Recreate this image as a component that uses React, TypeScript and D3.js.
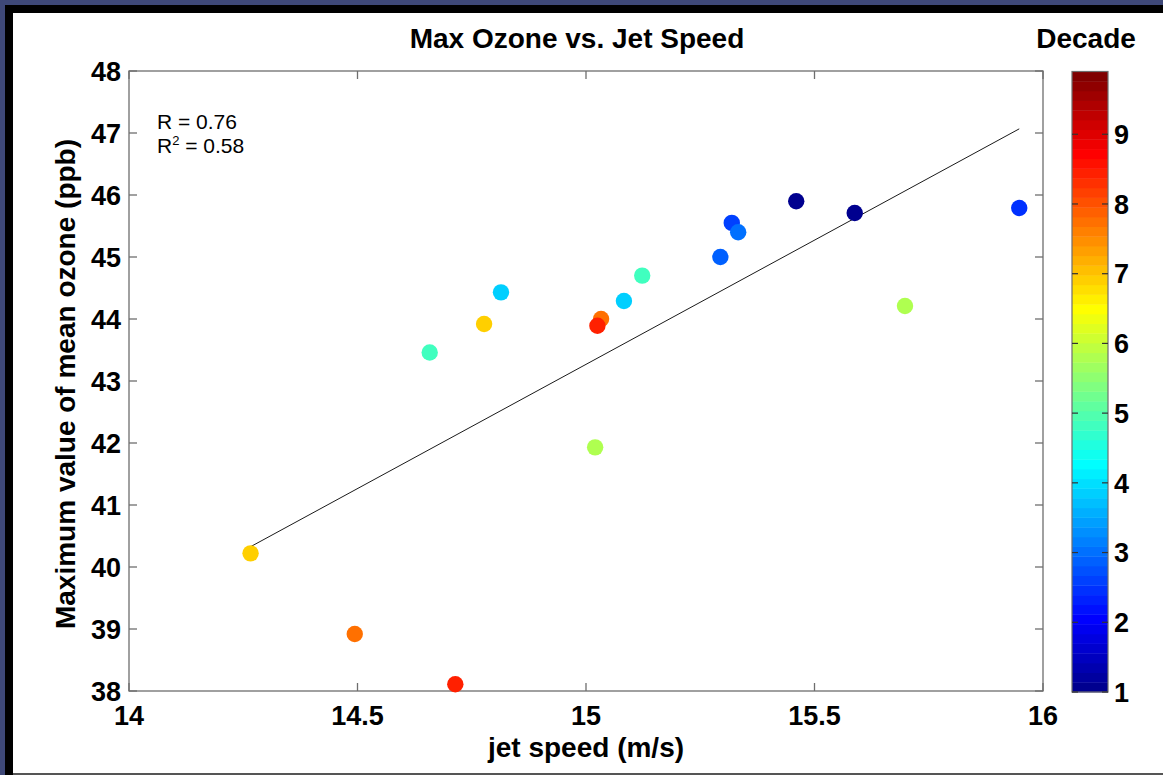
import React from 'react';
import * as d3 from 'd3';

// Per-year records: jet speed (m/s), max of mean ozone (ppb), decade index
const jetSpeed = [14.266, 14.494, 14.714, 14.658, 14.777, 14.814, 15.033, 15.025, 15.02, 15.083, 15.123, 15.294, 15.319, 15.333, 15.46, 15.588, 15.698, 15.948];
const maxOzone = [40.22, 38.92, 38.11, 43.46, 43.92, 44.43, 44.0, 43.89, 41.93, 44.29, 44.7, 45.0, 45.55, 45.4, 45.9, 45.71, 44.21, 45.79];
const decade = [6.9, 7.8, 8.45, 4.8, 6.9, 3.85, 7.8, 8.4, 5.8, 3.85, 4.8, 2.9, 2.6, 3.0, 1.0, 1.05, 5.8, 2.45];

const xTicks = [14, 14.5, 15, 15.5, 16];
const yTicks = [38, 39, 40, 41, 42, 43, 44, 45, 46, 47, 48];
const cbTicks = [1, 2, 3, 4, 5, 6, 7, 8, 9];
const xDomain = [14, 16];
const yDomain = [38, 48];
const cbDomain = [1, 9.9];
const rText = '0.76';
const r2Text = '0.58';

const W = 1163;
const H = 775;
const plot = { left: 129, right: 1043, top: 71, bottom: 691 };
const cb = { left: 1072, right: 1108, top: 71.5, bottom: 692 };
const FONT = '"Liberation Sans", Arial, Helvetica, sans-serif';
const AXIS = '#6e6e6e';
const N_COLORS = 64;

// MATLAB-style jet colormap with 64 entries
function jetEntry(i: number): string {
  const u = (k: number) => (k < 1 || k > 47 ? 0 : k <= 16 ? k / 16 : k <= 31 ? 1 : (48 - k) / 16);
  const r = u(i - 24);
  const g = u(i - 8);
  const b = u(i + 8);
  return d3.rgb(Math.round(r * 255), Math.round(g * 255), Math.round(b * 255)).formatHex();
}
const jet = d3.range(1, N_COLORS + 1).map(jetEntry);

function colorOf(v: number): string {
  const idx = Math.floor(((v - cbDomain[0]) / (cbDomain[1] - cbDomain[0])) * N_COLORS);
  return jet[Math.max(0, Math.min(N_COLORS - 1, idx))];
}

export default function App() {
  const x = d3.scaleLinear().domain(xDomain).range([plot.left, plot.right]);
  const y = d3.scaleLinear().domain(yDomain).range([plot.bottom, plot.top]);
  const cy = d3.scaleLinear().domain(cbDomain).range([cb.bottom, cb.top]);

  // least-squares fit of ozone on jet speed
  const mx = d3.mean(jetSpeed)!;
  const my = d3.mean(maxOzone)!;
  let sxy = 0;
  let sxx = 0;
  jetSpeed.forEach((v, i) => {
    sxy += (v - mx) * (maxOzone[i] - my);
    sxx += (v - mx) * (v - mx);
  });
  const slope = sxy / sxx;
  const icpt = my - slope * mx;
  const [x0, x1] = d3.extent(jetSpeed) as [number, number];
  const fitLine = d3.line<number>().x((d) => x(d)).y((d) => y(icpt + slope * d))([x0, x1]);

  const bandH = (cb.bottom - cb.top) / N_COLORS;
  const tick = 8;

  return (
    <div style={{ position: 'absolute', left: 0, top: 0 }}>
      <svg width={W} height={H} style={{ display: 'block' }}>
        {/* slide frame */}
        <rect x={0} y={0} width={W} height={H} fill="#3e4878" />
        <rect x={5} y={5} width={W - 5} height={H - 5} fill="#000" />
        <rect x={13} y={13} width={W - 13} height={H - 15} fill="#fff" />
        <rect x={13} y={H - 2} width={W - 13} height={2} fill="#555" />

        {/* title */}
        <text x={577} y={48} textAnchor="middle" fontFamily={FONT} fontWeight="bold" fontSize={28} fill="#000">
          Max Ozone vs. Jet Speed
        </text>

        {/* axes box */}
        <rect x={plot.left} y={plot.top} width={plot.right - plot.left} height={plot.bottom - plot.top} fill="none" stroke={AXIS} strokeWidth={1.3} />
        {xTicks.map((t) => (
          <g key={'xt' + t}>
            <line x1={x(t)} x2={x(t)} y1={plot.bottom} y2={plot.bottom - tick} stroke={AXIS} strokeWidth={1.3} />
            <line x1={x(t)} x2={x(t)} y1={plot.top} y2={plot.top + tick} stroke={AXIS} strokeWidth={1.3} />
            <text x={x(t)} y={725} textAnchor="middle" fontFamily={FONT} fontWeight="bold" fontSize={27} fill="#000">
              {String(t)}
            </text>
          </g>
        ))}
        {yTicks.map((t) => (
          <g key={'yt' + t}>
            <line x1={plot.left} x2={plot.left + tick} y1={y(t)} y2={y(t)} stroke={AXIS} strokeWidth={1.3} />
            <line x1={plot.right} x2={plot.right - tick} y1={y(t)} y2={y(t)} stroke={AXIS} strokeWidth={1.3} />
            <text x={121} y={y(t)} dy="0.36em" textAnchor="end" fontFamily={FONT} fontWeight="bold" fontSize={27} fill="#000">
              {String(t)}
            </text>
          </g>
        ))}

        {/* axis labels */}
        <text x={(plot.left + plot.right) / 2} y={757} textAnchor="middle" fontFamily={FONT} fontWeight="bold" fontSize={28} fill="#000">
          jet speed (m/s)
        </text>
        <text
          transform={`translate(75,${(plot.top + plot.bottom) / 2 + 3}) rotate(-90)`}
          textAnchor="middle"
          fontFamily={FONT}
          fontWeight="bold"
          fontSize={28}
          fill="#000"
        >
          Maximum value of mean ozone (ppb)
        </text>

        {/* regression line */}
        <path d={fitLine || ''} fill="none" stroke="#1a1a1a" strokeWidth={1} />

        {/* points */}
        {jetSpeed.map((v, i) => (
          <circle key={'p' + i} cx={x(v)} cy={y(maxOzone[i])} r={8.2} fill={colorOf(decade[i])} />
        ))}

        {/* correlation text */}
        <text x={157} y={129} fontFamily={FONT} fontSize={21} fill="#000">
          R = {rText}
        </text>
        <text x={157} y={153} fontFamily={FONT} fontSize={21} fill="#000">
          R<tspan fontSize={13} dy={-8}>2</tspan>
          <tspan dy={8}> = {r2Text}</tspan>
        </text>

        {/* colorbar */}
        <text x={1086} y={48} textAnchor="middle" fontFamily={FONT} fontWeight="bold" fontSize={28} fill="#000">
          Decade
        </text>
        {jet.map((c, i) => (
          <rect key={'cb' + i} x={cb.left} y={cb.bottom - (i + 1) * bandH} width={cb.right - cb.left} height={bandH + 0.4} fill={c} />
        ))}
        <rect x={cb.left} y={cb.top} width={cb.right - cb.left} height={cb.bottom - cb.top} fill="none" stroke={AXIS} strokeWidth={1.2} />
        {cbTicks.map((t) => (
          <g key={'cbt' + t}>
            <line x1={cb.left} x2={cb.left + 6} y1={cy(t)} y2={cy(t)} stroke="#333" strokeWidth={1.2} />
            <line x1={cb.right} x2={cb.right - 6} y1={cy(t)} y2={cy(t)} stroke="#333" strokeWidth={1.2} />
            <text x={1114} y={cy(t)} dy="0.36em" fontFamily={FONT} fontWeight="bold" fontSize={27} fill="#000">
              {String(t)}
            </text>
          </g>
        ))}
      </svg>
    </div>
  );
}
